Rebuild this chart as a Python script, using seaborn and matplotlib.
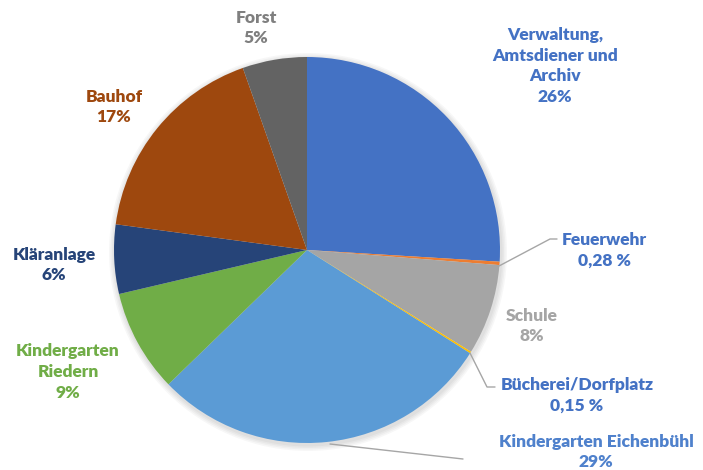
import matplotlib
matplotlib.use("Agg")
import matplotlib.pyplot as plt
import seaborn as sns

# ----- data ------------------------------------------------------------------
categories = ["Verwaltung, Amtsdiener und Archiv", "Feuerwehr", "Schule",
              "Bücherei/Dorfplatz", "Kindergarten Eichenbühl",
              "Kindergarten Riedern", "Kläranlage", "Bauhof", "Forst"]
shares = [26.0, 0.28, 7.6, 0.15, 28.8, 8.6, 5.8, 17.5, 5.4]
label_texts = ["Verwaltung,\nAmtsdiener und\nArchiv\n26%", "Feuerwehr\n0,28 %",
               "Schule\n8%", "Bücherei/Dorfplatz\n0,15 %",
               "Kindergarten Eichenbühl\n29%", "Kindergarten\nRiedern\n9%",
               "Kläranlage\n6%", "Bauhof\n17%", "Forst\n5%"]

slice_colors = ["#4472C4", "#ED7D31", "#A5A5A5", "#FFC000", "#5B9BD5",
                "#70AD47", "#264478", "#9E480E", "#636363"]
text_colors = ["#4472C4", "#4472C4", "#A5A5A5", "#4472C4", "#4F81CC",
               "#70AD47", "#264478", "#9E480E", "#7F7F7F"]
# label centres in pixel coords (top-left origin)
text_pos = [(555, 66), (604, 250), (532, 326), (577, 395),
            (596, 452), (68, 372), (54, 265), (114, 107), (256, 28)]
# leader lines (pixel coords)
leaders = [None, [(499, 266), (550, 239), (557, 239)], None,
           [(470, 353), (487, 387), (495, 387)],
           [(330, 444), (463, 459)], None, None, None, None]

W, H = 703, 470
CX, CY, R = 307, 250, 193

sns.set_theme(style="white")
plt.rcParams["font.family"] = ["Lato", "DejaVu Sans"]

fig = plt.figure(figsize=(W / 100, H / 100), dpi=100)
ax = fig.add_axes([0, 0, 1, 1])

# soft shadow
for i in range(4):
    ax.add_patch(plt.Circle((CX + 1, H - CY - 2), R + 1.5 + i * 1.5,
                            color="black", alpha=0.03, lw=0, zorder=0))

ax.pie(shares, colors=slice_colors, startangle=90, counterclock=False,
       center=(CX, H - CY), radius=R,
       wedgeprops={"linewidth": 0, "zorder": 1})

for txt, col, (x, y) in zip(label_texts, text_colors, text_pos):
    ax.text(x, H - y, txt, color=col, ha="center", va="center",
            fontsize=12.5, fontweight="heavy", linespacing=1.37)

for pts in leaders:
    if pts is None:
        continue
    ax.plot([p[0] for p in pts], [H - p[1] for p in pts],
            color="#A6A6A6", lw=1, zorder=2)

ax.set_xlim(0, W)
ax.set_ylim(0, H)
ax.set_aspect("equal")
ax.axis("off")

fig.savefig("out.png", dpi=100, facecolor="white")
